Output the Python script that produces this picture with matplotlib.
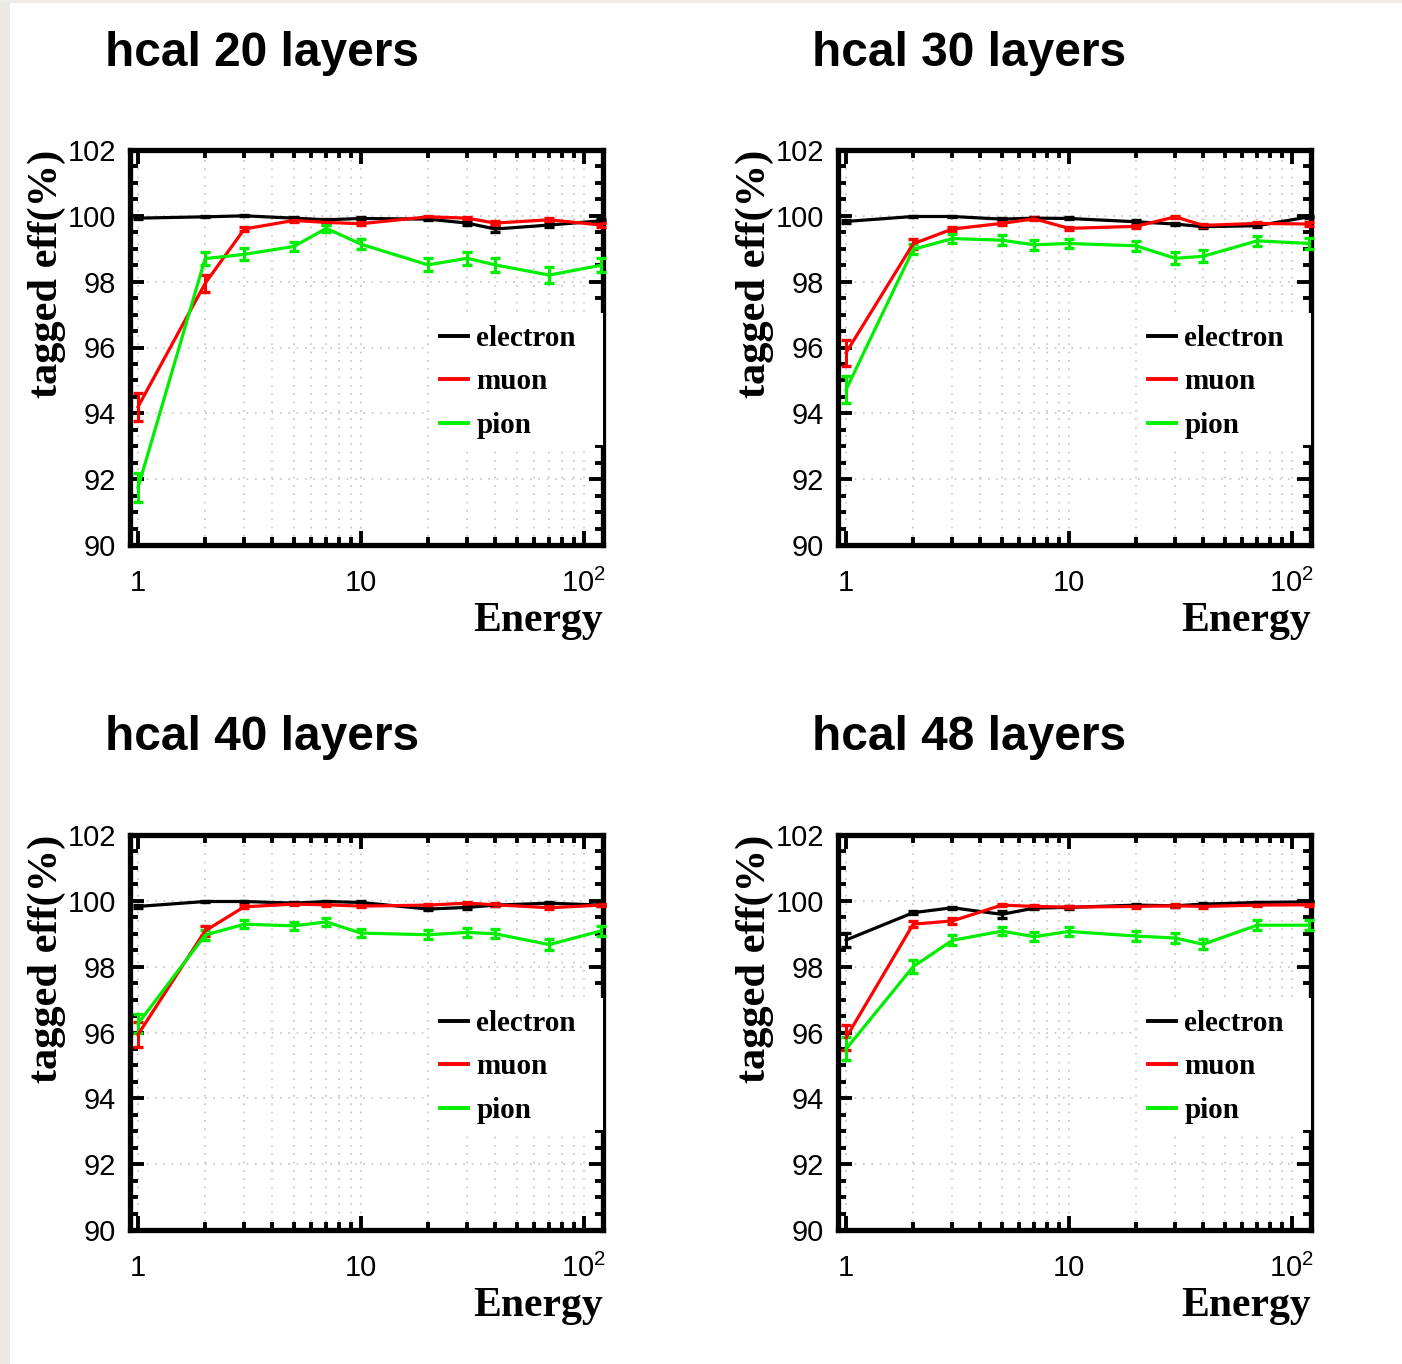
import matplotlib
matplotlib.use("Agg")
import matplotlib.pyplot as plt
import matplotlib.ticker as mticker
from matplotlib.transforms import blended_transform_factory
from matplotlib.patches import Rectangle

plt.rcParams['mathtext.fontset'] = 'custom'
plt.rcParams['mathtext.rm'] = 'Liberation Sans'

energy = [1, 2, 3, 5, 7, 10, 20, 30, 40, 70, 120]
panel_titles = ["hcal 20 layers", "hcal 30 layers", "hcal 40 layers", "hcal 48 layers"]
series_labels = ["electron", "muon", "pion"]
series_colors = ["#000000", "#ff0000", "#00ee00"]

ele_20 = [99.93, 99.97, 100.0, 99.93, 99.88, 99.92, 99.9, 99.78, 99.6, 99.72, 99.85]
mu_20 = [94.2, 97.95, 99.6, 99.86, 99.8, 99.76, 99.97, 99.93, 99.78, 99.88, 99.72]
pi_20 = [91.75, 98.7, 98.83, 99.07, 99.62, 99.14, 98.51, 98.71, 98.51, 98.2, 98.5]
ele_err_20 = [0.03, 0.02, 0.02, 0.03, 0.03, 0.03, 0.03, 0.05, 0.1, 0.05, 0.05]
mu_err_20 = [0.42, 0.25, 0.06, 0.04, 0.05, 0.05, 0.03, 0.04, 0.05, 0.05, 0.06]
pi_err_20 = [0.45, 0.2, 0.18, 0.15, 0.1, 0.15, 0.2, 0.2, 0.22, 0.25, 0.22]

ele_30 = [99.83, 99.98, 99.98, 99.9, 99.93, 99.92, 99.82, 99.75, 99.67, 99.7, 99.97]
mu_30 = [95.84, 99.15, 99.6, 99.77, 99.91, 99.62, 99.68, 99.97, 99.71, 99.77, 99.75]
pi_30 = [94.72, 98.98, 99.31, 99.26, 99.12, 99.16, 99.09, 98.71, 98.77, 99.24, 99.16]
ele_err_30 = [0.04, 0.02, 0.02, 0.03, 0.03, 0.03, 0.04, 0.04, 0.05, 0.05, 0.03]
mu_err_30 = [0.4, 0.15, 0.05, 0.04, 0.04, 0.05, 0.05, 0.03, 0.05, 0.05, 0.05]
pi_err_30 = [0.4, 0.15, 0.15, 0.15, 0.15, 0.15, 0.15, 0.18, 0.18, 0.15, 0.17]

ele_40 = [99.83, 99.98, 99.98, 99.93, 99.98, 99.95, 99.75, 99.8, 99.87, 99.93, 99.87]
mu_40 = [95.94, 99.09, 99.82, 99.9, 99.88, 99.84, 99.87, 99.93, 99.88, 99.79, 99.87]
pi_40 = [96.27, 98.96, 99.29, 99.24, 99.36, 99.02, 98.97, 99.04, 99.0, 98.67, 99.09]
ele_err_40 = [0.04, 0.02, 0.02, 0.03, 0.02, 0.03, 0.04, 0.04, 0.03, 0.03, 0.03]
mu_err_40 = [0.38, 0.15, 0.05, 0.04, 0.04, 0.04, 0.04, 0.03, 0.04, 0.05, 0.04]
pi_err_40 = [0.3, 0.15, 0.12, 0.13, 0.12, 0.13, 0.14, 0.14, 0.14, 0.17, 0.15]

ele_48 = [98.81, 99.64, 99.79, 99.59, 99.78, 99.8, 99.87, 99.85, 99.9, 99.95, 99.97]
mu_48 = [95.84, 99.29, 99.39, 99.87, 99.83, 99.81, 99.83, 99.85, 99.83, 99.87, 99.88]
pi_48 = [95.5, 98.0, 98.8, 99.08, 98.91, 99.07, 98.93, 98.87, 98.68, 99.26, 99.26]
ele_err_48 = [0.2, 0.05, 0.03, 0.1, 0.04, 0.04, 0.03, 0.03, 0.03, 0.02, 0.02]
mu_err_48 = [0.38, 0.1, 0.1, 0.04, 0.04, 0.04, 0.04, 0.04, 0.04, 0.03, 0.03]
pi_err_48 = [0.35, 0.2, 0.15, 0.13, 0.13, 0.13, 0.15, 0.15, 0.15, 0.15, 0.15]

panels = [
    (ele_20, mu_20, pi_20, ele_err_20, mu_err_20, pi_err_20),
    (ele_30, mu_30, pi_30, ele_err_30, mu_err_30, pi_err_30),
    (ele_40, mu_40, pi_40, ele_err_40, mu_err_40, pi_err_40),
    (ele_48, mu_48, pi_48, ele_err_48, mu_err_48, pi_err_48),
]

W, H = 1402, 1364
fig = plt.figure(figsize=(W / 100, H / 100), dpi=100)
fig.patch.set_facecolor("white")
# slide background strips
fig.add_artist(Rectangle((0, 0), 10 / W, 1, transform=fig.transFigure,
                         facecolor="#ebe8e1", edgecolor="none", zorder=0))
fig.add_artist(Rectangle((0, 1 - 3 / H), 1, 3 / H, transform=fig.transFigure,
                         facecolor="#efede6", edgecolor="none", zorder=0))

# axes boxes in pixels: (left, top)
boxes = [(130, 150), (838, 150), (130, 835), (838, 835)]
title_pos = [(105, 53), (812, 53), (105, 738), (812, 738)]
aw, ah = 473, 395

sans = "Liberation Sans"
serif = "Liberation Serif"

def xfmt(v, pos):
    if abs(v - 1) < 1e-9:
        return "1"
    if abs(v - 10) < 1e-9:
        return "10"
    if abs(v - 100) < 1e-9:
        return r"$\mathregular{10^{2}}$"
    return ""

for i, (vals) in enumerate(panels):
    ele, mu, pi, ele_e, mu_e, pi_e = vals
    l, t = boxes[i]
    ax = fig.add_axes([l / W, 1 - (t + ah) / H, aw / W, ah / H])
    ax.set_xscale("log")
    ax.set_xlim(0.92, 122)
    ax.set_ylim(90, 102)

    # grid
    ax.set_yticks([90, 92, 94, 96, 98, 100, 102])
    ax.yaxis.set_minor_locator(mticker.MultipleLocator(0.5))
    ax.xaxis.set_major_locator(mticker.LogLocator(base=10, numticks=10))
    ax.xaxis.set_minor_locator(mticker.LogLocator(base=10, subs=range(2, 10), numticks=10))
    ax.xaxis.set_major_formatter(mticker.FuncFormatter(xfmt))
    ax.xaxis.set_minor_formatter(mticker.NullFormatter())
    ax.grid(True, which="major", axis="y", color="#c4c4c4", linestyle=(0, (1, 4)), linewidth=1.2)
    ax.grid(True, which="both", axis="x", color="#c4c4c4", linestyle=(0, (1, 4)), linewidth=1.2)
    ax.set_axisbelow(True)

    for s in ax.spines.values():
        s.set_linewidth(3.8)
        s.set_zorder(3)
    ax.tick_params(which="major", direction="in", length=10, width=2.8,
                   top=True, right=True, labelsize=21, pad=10)
    ax.tick_params(which="minor", direction="in", length=5.5, width=2.8,
                   top=True, right=True)
    ax.tick_params(axis="x", which="major", pad=17)
    for lab in ax.get_xticklabels() + ax.get_yticklabels():
        lab.set_fontfamily(sans)

    series = [(ele, ele_e), (mu, mu_e), (pi, pi_e)]
    handles = []
    for (y, e), lab, c in zip(series, series_labels, series_colors):
        ax.errorbar(energy, y, yerr=e, color=c, linewidth=2.3, elinewidth=2.2,
                    capsize=3.5, capthick=2.4, zorder=4, clip_on=False)
        h, = ax.plot([], [], color=c, linewidth=2.8, label=lab)
        handles.append(h)

    # white legend box covering grid and part of the right frame
    tr = blended_transform_factory(ax.transAxes, ax.transData)
    ax.add_patch(Rectangle((0.634, 93.03), 1.0 - 0.634, 97.05 - 93.03, transform=tr,
                           facecolor="white", edgecolor="none", zorder=3.5, clip_on=False))
    leg = ax.legend(handles=handles, loc="center left", bbox_to_anchor=(0.655, 0.413),
                    frameon=False, prop={"family": serif, "weight": "bold", "size": 21},
                    handlelength=0.95, handletextpad=0.3, labelspacing=0.57,
                    borderpad=0, borderaxespad=0)
    leg.set_zorder(6)

    ax.set_ylabel("tagged eff(%)", fontfamily=serif, fontweight="bold", fontsize=30.5,
                  loc="top", labelpad=1)
    ax.set_xlabel("Energy", fontfamily=serif, fontweight="bold", fontsize=30,
                  loc="right", labelpad=3)

    tx, ty = title_pos[i]
    fig.text(tx / W, 1 - ty / H, panel_titles[i], fontfamily=sans, fontweight="bold",
             fontsize=34.5, ha="left", va="center")

fig.savefig("out.png", dpi=100, facecolor=fig.get_facecolor())
